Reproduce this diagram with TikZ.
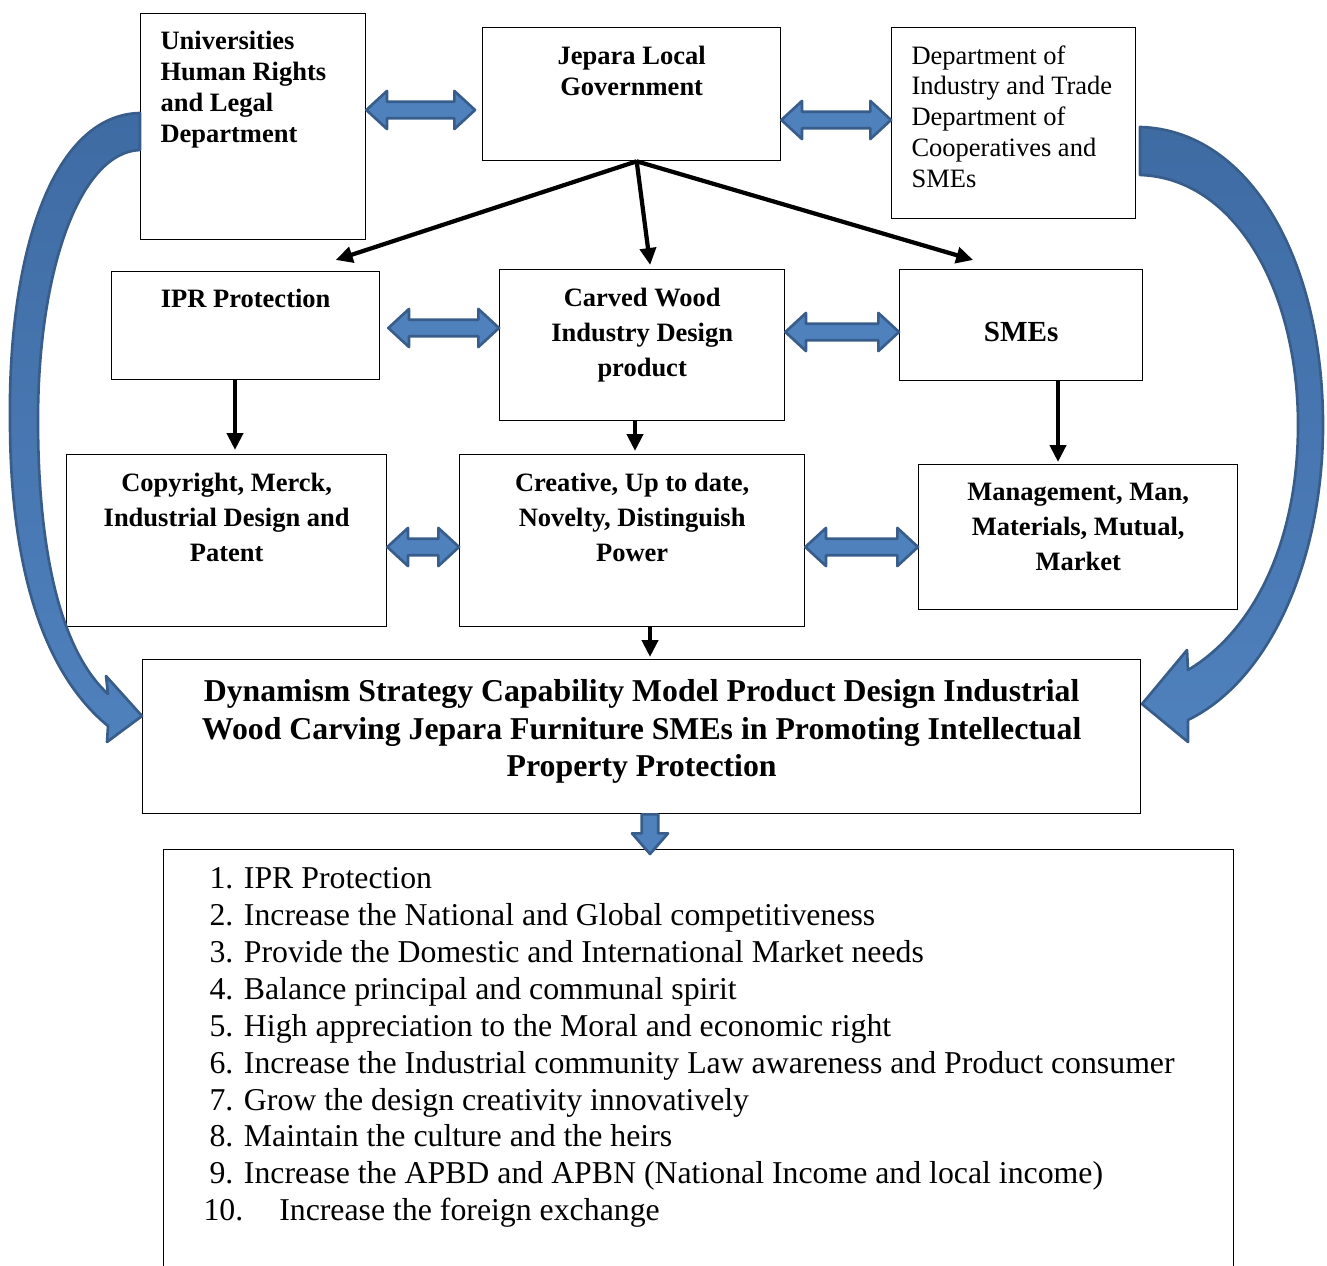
\documentclass[tikz,border=0pt]{standalone}
\usepackage{fontspec}
\setmainfont{Liberation Serif}
\usetikzlibrary{arrows.meta,calc}

\newdimen\px \px=0.3774pt
\definecolor{arrowfill}{HTML}{4F81BD}
\definecolor{arrowdark}{HTML}{3F6BA3}
\definecolor{arrowline}{HTML}{385D8A}

\tikzset{
  box/.style={draw, line width=0.5pt, anchor=north west, inner sep=0pt},
  tb/.style={inner sep=0pt, font=\bfseries\fontsize{10}{11.7}\selectfont},
  tbw/.style={inner sep=0pt, font=\bfseries\fontsize{10}{13.2}\selectfont},
  tr/.style={inner sep=0pt, font=\fontsize{10}{11.6}\selectfont},
  blk/.style={-{Triangle[length=6.4pt,width=6pt]}, line width=1.6pt},
  blockarr/.style={fill=arrowfill, draw=arrowline, line width=1pt, line join=round},
}

% double block arrow between two points on one level
\newcommand{\dblarrow}[2]{%
  \filldraw[blockarr] let \p1=(#1), \p2=(#2) in
    (\p1) -- ++(7.8pt,7.2pt) -- ++(0,-4.1pt) -- (\x2-7.8pt,\y1+3.1pt)
    -- ++(0,4.1pt) -- (\x2,\y1) -- ++(-7.8pt,-7.2pt) -- ++(0,4.1pt)
    -- (\x1+7.8pt,\y1-3.1pt) -- ++(0,-4.1pt) -- cycle;}
% block arrow pointing down
\newcommand{\blockdown}[2]{%
  \filldraw[blockarr] let \p1=(#1), \p2=(#2) in
    (\x1-3.1pt,\y1) -- (\x1-3.1pt,\y2+7.8pt) -- (\x1-6.8pt,\y2+7.8pt)
    -- (\x1,\y2) -- (\x1+6.8pt,\y2+7.8pt) -- (\x1+3.1pt,\y2+7.8pt)
    -- (\x1+3.1pt,\y1) -- cycle;}

\begin{document}
\begin{tikzpicture}[x=0.3774pt, y=-0.3774pt]
  \useasboundingbox (0,0) rectangle (1327,1265);

  % Top row
  \node[box, minimum width=225\px, minimum height=226\px] (univ) at (140,13) {};
  \node[box, minimum width=298\px, minimum height=133\px] (jep) at (482,27) {};
  \node[box, minimum width=244\px, minimum height=191\px] (dept) at (891,27) {};
  \node[tb, anchor=north west, align=left] (univ-t) at ($(univ.north west)+(20,18)$)
    {Universities\\Human Rights\\and Legal\\Department};
  \node[tb, anchor=north, align=center] (jep-t) at ($(jep.north)+(0,19)$)
    {Jepara Local\\Government};
  \node[tr, anchor=north west, align=left] (dept-t) at ($(dept.north west)+(20,18)$)
    {Department of\\Industry and Trade\\Department of\\Cooperatives and\\SMEs};

  % Middle row
  \node[box, minimum width=268\px, minimum height=108\px] (ipr) at (111,271) {};
  \node[box, minimum width=285\px, minimum height=151\px] (carved) at (499,269) {};
  \node[box, minimum width=243\px, minimum height=111\px] (sme) at (899,269) {};
  \node[tb, anchor=north] (ipr-t) at ($(ipr.north)+(0,18)$) {IPR Protection};
  \node[tbw, anchor=north, align=center] (carved-t) at ($(carved.north)+(0,19)$)
    {Carved Wood\\Industry Design\\product};
  \node[inner sep=0pt, font=\bfseries\fontsize{11}{13}\selectfont] (sme-t)
    at ($(sme.center)+(0,7)$) {SMEs};

  % Third row
  \node[box, minimum width=320\px, minimum height=172\px] (copy) at (66,454) {};
  \node[box, minimum width=345\px, minimum height=172\px] (creat) at (459,454) {};
  \node[box, minimum width=319\px, minimum height=145\px] (mgmt) at (918,464) {};
  \node[tbw, anchor=north, align=center] (copy-t) at ($(copy.north)+(0,19)$)
    {Copyright, Merck,\\Industrial Design and\\Patent};
  \node[tbw, anchor=north, align=center] (creat-t) at ($(creat.north)+(0,19)$)
    {Creative, Up to date,\\Novelty, Distinguish\\Power};
  \node[tbw, anchor=north, align=center] (mgmt-t) at ($(mgmt.north)+(0,19)$)
    {Management, Man,\\Materials, Mutual,\\Market};

  % Model box
  \node[box, minimum width=998\px, minimum height=154\px] (dyn) at (142,659) {};
  \node[inner sep=0pt, anchor=north, align=center,
    font=\bfseries\fontsize{12}{14.15}\selectfont] (dyn-t) at ($(dyn.north)+(0,20)$)
    {Dynamism Strategy Capability Model Product Design Industrial\\
     Wood Carving Jepara Furniture SMEs in Promoting Intellectual\\
     Property Protection};

  % Outcomes
  \node[box, minimum width=1070\px, minimum height=460\px] (lst) at (163,849) {};
  \node[inner sep=0pt, anchor=north west, align=left,
    font=\fontsize{12}{13.93}\selectfont] (items) at ($(lst.north west)+(46,18)$)
    {1. IPR Protection\\
     2. Increase the National and Global competitiveness\\
     3. Provide the Domestic and International Market needs\\
     4. Balance principal and communal spirit\\
     5. High appreciation to the Moral and economic right\\
     6. Increase the Industrial community Law awareness and Product consumer\\
     7. Grow the design creativity innovatively\\
     8. Maintain the culture and the heirs\\
     9. Increase the APBD and APBN (National Income and local income)\\
     \hspace*{-6\px}10.\hspace*{36\px}Increase the foreign exchange};

  % Black arrows
  \coordinate (jepout) at ($(jep.south)+(5,0)$);
  \draw[blk] (jepout) -- ($(ipr.north)+(90,-11)$);
  \draw[blk] (jepout) -- ($(carved.north)+(8,-4)$);
  \draw[blk] (jepout) -- ($(sme.north)+(-48,-9)$);
  \draw[blk] (235,0 |- ipr.south) -- ($(235,0 |- copy.north)+(0,-4)$);
  \draw[blk] (635,0 |- carved.south) -- ($(635,0 |- creat.north)+(0,-3)$);
  \draw[blk] (1058,0 |- sme.south) -- ($(1058,0 |- mgmt.north)+(0,-2)$);
  \draw[blk] (650,0 |- creat.south) -- ($(650,0 |- dyn.north)+(0,-2)$);

  % Block arrows
  \dblarrow{univ.east |- 0,110}{$(jep.west |- 0,110)+(-7,0)$}
  \dblarrow{jep.east |- 0,120}{dept.west |- 0,120}
  \dblarrow{$(ipr.east |- 0,328)+(8,0)$}{carved.west |- 0,328}
  \dblarrow{carved.east |- 0,332}{sme.west |- 0,332}
  \dblarrow{copy.east |- 0,547}{creat.west |- 0,547}
  \dblarrow{creat.east |- 0,547}{mgmt.west |- 0,547}
  \blockdown{650,0 |- dyn.south}{$(650,0 |- lst.north)+(0,5)$}

  % Curved arrows
  \path[draw=arrowline, line width=1pt, line join=round,
    top color=arrowdark, bottom color=arrowfill]
    (140,113) .. controls (50,115) and (8,260) .. (10,420)
    .. controls (10,560) and (40,670) .. (108,726)
    -- (107,742) -- (142,716) -- (106,676) -- (108,694)
    .. controls (60,650) and (38,550) .. (38,420)
    .. controls (38,270) and (80,152) .. (140,150) -- cycle;
  \path[draw=arrowline, line width=1pt, line join=round,
    top color=arrowdark, bottom color=arrowfill]
    (1140,127) .. controls (1250,130) and (1323,260) .. (1323,425)
    .. controls (1323,560) and (1270,680) .. (1188,720)
    -- (1188,742) -- (1142,704) -- (1187,650) -- (1188,670)
    .. controls (1255,630) and (1298,540) .. (1298,425)
    .. controls (1298,290) and (1235,178) .. (1140,175) -- cycle;
\end{tikzpicture}
\end{document}
